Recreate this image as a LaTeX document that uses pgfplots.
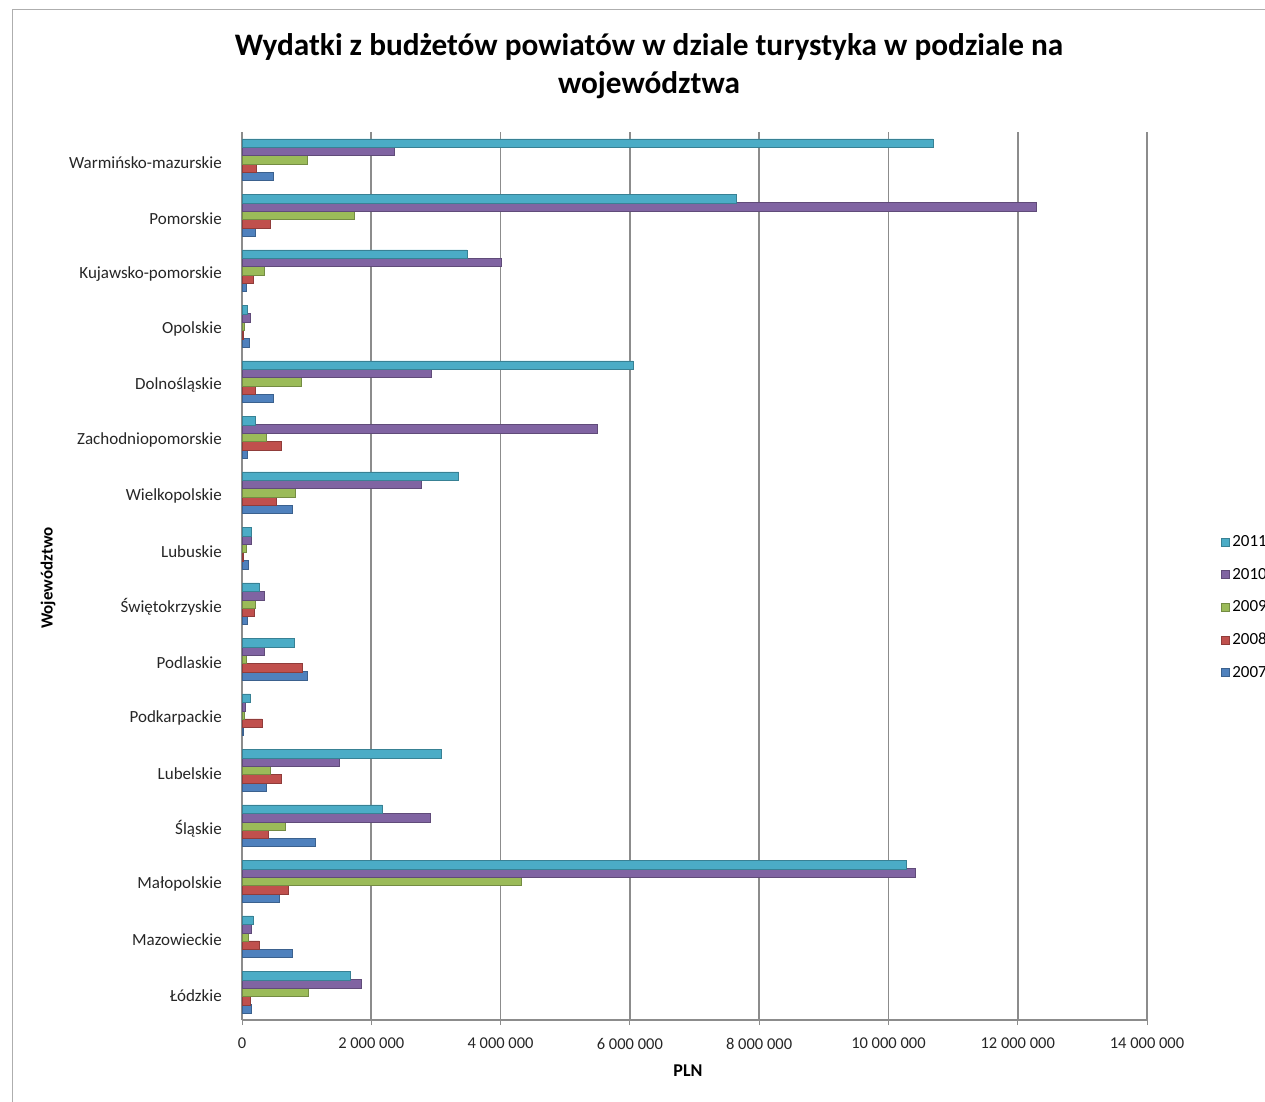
\documentclass[border=0pt]{standalone}
\usepackage{fontspec}
\setmainfont{Carlito}
\usepackage{pgfplots}
\pgfplotsset{compat=1.18}
\definecolor{c2011}{HTML}{4BACC6}
\definecolor{c2010}{HTML}{8064A2}
\definecolor{c2009}{HTML}{9BBB59}
\definecolor{c2008}{HTML}{C0504D}
\definecolor{c2007}{HTML}{4F81BD}
\definecolor{gridc}{RGB}{140,140,140}
\begin{document}
\begin{tikzpicture}[x=1pt,y=1pt]
\draw[gridc!70,line width=1pt] (12,-10) -- (12,1091) -- (1300,1091);
\node[font=\bfseries\fontsize{31.3}{38}\selectfont,align=center] at (649,1035) {Wydatki z budżetów powiatów w dziale turystyka w podziale na\\województwa};
\node[rotate=90,font=\bfseries\fontsize{17}{20}\selectfont] at (48,523) {Województwo};
\node[font=\bfseries\fontsize{18}{20}\selectfont] at (688,30) {PLN};
\begin{axis}[
  at={(242pt,81pt)}, anchor=south west,
  scale only axis, width=905pt, height=888pt,
  xbar, bar width=8.6pt,
  xmin=0, xmax=14, ymin=-0.5, ymax=15.5,
  xtick={0,2,4,6,8,10,12,14},
  xticklabels={0,2 000 000,4 000 000,6 000 000,8 000 000,10 000 000,12 000 000,14 000 000},
  ytick={0,...,15},
  yticklabels={Łódzkie,Mazowieckie,Małopolskie,Śląskie,Lubelskie,Podkarpackie,Podlaskie,Świętokrzyskie,Lubuskie,Wielkopolskie,Zachodniopomorskie,Dolnośląskie,Opolskie,Kujawsko-pomorskie,Pomorskie,Warmińsko-mazurskie},
  xmajorgrids, grid style={gridc, line width=1.6pt},
  axis x line*=bottom, axis y line*=left,
  axis line style={gridc, line width=1.2pt},
  x axis line style={-}, y axis line style={-},
  ytick style={draw=none},
  xtick style={gridc, line width=1pt},
  tick align=outside, major tick length=5pt,
  ticklabel style={text=black!85},
  yticklabel style={inner sep=0pt, xshift=-15pt, yshift=-3pt, font=\fontsize{17}{20}\selectfont},
  xticklabel style={inner sep=0pt, yshift=-13pt, font=\fontsize{16.5}{20}\selectfont},
  legend style={draw=none, fill=none, at={(1.078,0.549)}, anchor=north west,
    font=\fontsize{17}{20}\selectfont, row sep=18pt,
    nodes={inner sep=1pt}},
  legend cell align=left,
  reverse legend,
  legend image code/.code={\fill[#1] (0pt,-4pt) rectangle (8pt,4pt);},
  clip=false,
]
\addplot[fill=c2007, draw=c2007!75!black, line width=0.5pt, bar shift=-16.6pt] coordinates {
(0.15,0) (0.77,1) (0.58,2) (1.13,3) (0.37,4) (0.02,5) (1.01,6) (0.08,7) (0.09,8) (0.77,9) (0.08,10) (0.48,11) (0.11,12) (0.07,13) (0.21,14) (0.49,15)};
\addplot[fill=c2008, draw=c2008!75!black, line width=0.5pt, bar shift=-8.3pt] coordinates {
(0.12,0) (0.27,1) (0.71,2) (0.40,3) (0.60,4) (0.31,5) (0.93,6) (0.19,7) (0.02,8) (0.53,9) (0.60,10) (0.20,11) (0.02,12) (0.17,13) (0.43,14) (0.22,15)};
\addplot[fill=c2009, draw=c2009!75!black, line width=0.5pt, bar shift=0pt] coordinates {
(1.02,0) (0.09,1) (4.32,2) (0.67,3) (0.43,4) (0.04,5) (0.06,6) (0.21,7) (0.06,8) (0.83,9) (0.38,10) (0.91,11) (0.03,12) (0.35,13) (1.73,14) (1.01,15)};
\addplot[fill=c2010, draw=c2010!75!black, line width=0.5pt, bar shift=8.3pt] coordinates {
(1.84,0) (0.15,1) (10.41,2) (2.91,3) (1.51,4) (0.05,5) (0.35,6) (0.35,7) (0.15,8) (2.78,9) (5.50,10) (2.93,11) (0.12,12) (4.01,13) (12.28,14) (2.36,15)};
\addplot[fill=c2011, draw=c2011!75!black, line width=0.5pt, bar shift=16.6pt] coordinates {
(1.67,0) (0.17,1) (10.28,2) (2.17,3) (3.08,4) (0.13,5) (0.81,6) (0.27,7) (0.15,8) (3.35,9) (0.21,10) (6.05,11) (0.08,12) (3.48,13) (7.65,14) (10.69,15)};
\legend{\hspace{2pt}2007,\hspace{2pt}2008,\hspace{2pt}2009,\hspace{2pt}2010,\hspace{2pt}2011}
\end{axis}
\pgfresetboundingbox
\useasboundingbox (0,0) rectangle (1265,1101);
\end{tikzpicture}
\end{document}
